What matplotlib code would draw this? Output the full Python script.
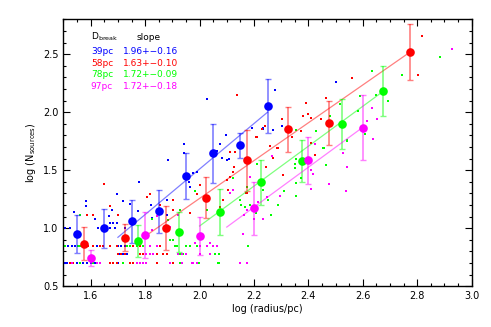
import matplotlib
matplotlib.use('Agg')
import matplotlib.pyplot as plt
import numpy as np
from matplotlib.ticker import MultipleLocator

# binned means (big symbols) with errors
blue_bx = [1.55, 1.65, 1.75, 1.85, 1.95, 2.05, 2.15, 2.25]
blue_by = [0.95, 1.00, 1.062, 1.148, 1.449, 1.647, 1.716, 2.051]
blue_be = [0.165, 0.17, 0.185, 0.185, 0.20, 0.255, 0.107, 0.232]

red_bx = [1.575, 1.725, 1.875, 2.025, 2.175, 2.325, 2.475, 2.775]
red_by = [0.867, 0.918, 1.002, 1.262, 1.584, 1.851, 1.908, 2.519]
red_be = [0.14, 0.115, 0.193, 0.178, 0.26, 0.19, 0.19, 0.238]

green_bx = [1.775, 1.925, 2.075, 2.225, 2.375, 2.525, 2.675]
green_by = [0.892, 0.970, 1.142, 1.395, 1.578, 1.899, 2.183]
green_be = [0.14, 0.174, 0.20, 0.196, 0.182, 0.215, 0.217]

mag_bx = [1.60, 1.80, 2.00, 2.20, 2.40, 2.60]
mag_by = [0.741, 0.941, 0.935, 1.174, 1.584, 1.865]
mag_be = [0.07, 0.195, 0.165, 0.228, 0.20, 0.28]

# individual regions (small dots)
blue_sx = [1.505, 1.512, 1.524, 1.536, 1.548, 1.561, 1.573, 1.585, 1.600, 1.615, 1.683, 1.700, 1.720,
           1.505, 1.518, 1.530, 1.542, 1.555, 1.610, 1.622, 1.634, 1.701, 1.713, 1.726,
           1.707, 1.720, 1.732,
           1.505, 1.524, 1.628, 1.671, 1.690, 1.726,
           1.671, 1.683, 1.695,
           1.539, 1.583, 1.583, 1.614, 1.668, 1.677, 1.695, 1.717, 1.744, 1.777, 1.775, 1.820, 1.824,
           1.885, 1.879, 1.879, 1.942, 1.942, 1.977, 1.989, 1.962, 1.965, 2.075, 2.096, 2.081, 2.063,
           2.100, 2.234, 2.270, 2.026, 2.277, 2.503, 2.193, 2.232, 2.302, 2.107]
blue_sy = [0.699, 0.699, 0.699, 0.699, 0.699, 0.699, 0.699, 0.699, 0.699, 0.699, 0.699, 0.699, 0.699,
           0.845, 0.845, 0.845, 0.845, 0.845, 0.845, 0.845, 0.845, 0.845, 0.845, 0.845,
           0.778, 0.778, 0.778,
           1.0, 1.0, 1.0, 1.0, 1.0, 1.0,
           1.041, 1.041, 1.041,
           1.139, 1.234, 1.191, 1.079, 1.108, 1.157, 1.297, 1.234, 1.208, 1.398, 1.145, 1.197, 1.088,
           1.587, 1.243, 1.114, 1.725, 1.650, 1.478, 1.484, 1.400, 1.352, 1.730, 1.799, 1.601, 1.667,
           1.587, 1.854, 1.845, 2.112, 2.190, 2.258, 1.860, 1.860, 1.882, 1.598]

red_sx = [1.524, 1.530, 1.536, 1.671, 1.683, 1.695, 1.744, 1.756, 1.769, 1.781, 1.793, 1.891, 1.903, 1.842,
          1.701, 1.713, 1.726, 1.781, 1.793, 1.805, 1.818, 1.842, 1.867, 1.879,
          1.591, 1.610, 1.634, 1.646, 1.671, 1.695, 1.732, 1.756, 1.781, 1.842, 1.854,
          1.650, 1.610, 1.585, 1.671, 1.701, 1.818, 1.808, 1.854, 1.854, 1.901, 1.903, 1.965, 2.001,
          1.989, 2.111, 2.130, 2.124, 2.111, 2.099, 2.105, 2.176, 2.209, 2.258, 2.283, 2.087, 2.075,
          2.136, 2.126, 2.228, 2.289, 2.819, 2.801, 2.560, 2.463, 2.391, 2.304, 2.445, 2.371, 2.338,
          2.212, 2.240, 2.424, 2.408, 2.270, 2.244, 2.307, 2.169, 2.381, 2.397, 2.411]
red_sy = [0.699, 0.699, 0.699, 0.699, 0.699, 0.699, 0.699, 0.699, 0.699, 0.699, 0.699, 0.699, 0.699, 0.699,
          0.778, 0.778, 0.778, 0.778, 0.778, 0.778, 0.778, 0.778, 0.778, 0.778,
          0.845, 0.845, 0.845, 0.845, 0.845, 0.845, 0.845, 0.845, 0.845, 0.845, 0.845,
          1.378, 1.114, 1.114, 1.191, 1.114, 1.294, 1.266, 1.200, 1.157, 1.157, 1.243, 1.128, 1.372,
          1.291, 1.659, 1.659, 1.487, 1.438, 1.415, 1.329, 1.300, 1.788, 1.707, 1.687, 1.243, 1.185,
          2.149, 1.524, 1.856, 1.688, 2.654, 2.316, 2.293, 2.120, 2.083, 1.939, 1.937, 1.837, 1.782,
          1.782, 1.880, 1.630, 1.731, 1.602, 1.529, 1.458, 1.305, 1.968, 1.983, 1.951]

green_sx = [1.561, 1.610, 1.720, 1.781, 1.793, 1.805, 1.928, 2.072, 1.999, 2.069,
            1.928, 1.940, 2.056, 2.072,
            1.505, 1.555, 1.561, 1.732, 1.744, 1.769, 1.793, 1.910, 1.916, 1.952, 1.965, 1.989, 2.026, 2.179,
            1.891, 1.903,
            1.561, 1.885, 1.824, 1.928, 1.983, 2.026, 2.124, 2.148, 2.166, 2.185, 2.232, 2.252, 2.209, 2.264,
            2.351, 2.351, 2.464, 2.287, 2.356, 2.311, 2.210, 2.173, 2.154, 2.372,
            2.542, 2.454, 2.353, 2.356,
            2.883, 2.744, 2.635, 2.693, 2.650, 2.591, 2.515, 2.581, 2.481, 2.427, 2.353, 2.607, 2.540, 2.457]
green_sy = [0.699, 0.699, 0.699, 0.699, 0.699, 0.699, 0.699, 0.699, 0.699, 0.699,
            0.778, 0.778, 0.778, 0.778,
            0.845, 0.845, 0.845, 0.845, 0.845, 0.845, 0.845, 0.845, 0.845, 0.845, 0.845, 0.845, 0.845, 0.845,
            0.903, 0.903,
            1.113, 1.070, 1.076, 1.157, 1.323, 1.157, 1.429, 1.243, 1.185, 1.200, 1.329, 1.243, 1.128, 1.114,
            1.550, 1.515, 1.544, 1.202, 1.277, 1.320, 1.550, 1.357, 1.200, 1.429,
            1.756, 1.688, 1.600, 1.392,
            2.476, 2.316, 2.353, 2.097, 2.152, 2.138, 2.066, 2.006, 1.968, 1.836, 1.845, 1.811, 1.753, 1.688]

mag_sx = [1.530, 1.622, 1.634, 1.769, 1.781, 1.793, 1.805, 1.891, 1.977, 1.989, 2.148, 2.175, 1.934, 1.974,
          1.805, 1.818, 1.830, 1.922, 1.934, 1.952, 2.001, 2.038,
          1.818, 1.842, 2.001, 2.026, 2.050, 2.063,
          1.844, 1.824, 1.891, 1.922, 1.983, 2.038, 2.124, 2.111, 2.175, 2.191, 2.216,
          2.638, 2.540, 2.537, 2.476, 2.417, 2.409, 2.295, 2.246, 2.232, 2.200, 2.164, 2.185, 2.268, 2.161,
          2.616, 2.409, 2.527, 2.926, 2.683, 2.652, 2.635, 2.424]
mag_sy = [0.699, 0.699, 0.699, 0.699, 0.699, 0.699, 0.699, 0.699, 0.699, 0.699, 0.699, 0.699, 0.699, 0.699,
          0.778, 0.778, 0.778, 0.778, 0.778, 0.778, 0.778, 0.778,
          0.845, 0.845, 0.845, 0.845, 0.845, 0.845,
          1.102, 0.985, 1.013, 1.114, 0.870, 0.870, 1.329, 1.300, 1.157, 1.185, 1.228,
          1.773, 1.529, 1.320, 1.380, 1.464, 1.340, 1.277, 1.271, 1.077, 1.077, 1.114, 1.443, 1.621, 0.950,
          1.923, 1.500, 1.645, 2.542, 2.166, 1.944, 2.032, 1.724]

# power-law fits: slope, x range, y at the upper end
fit_slope = [1.96, 1.63, 1.72, 1.72]
fit_xlo = [1.70, 1.80, 2.00, 2.10]
fit_xhi = [2.25, 2.775, 2.675, 2.60]
fit_yhi = [2.00, 2.52, 2.18, 1.87]

labels_d = ['39pc', '58pc', '78pc', '97pc']
labels_s = ['1.96+\u22120.16', '1.63+\u22120.10', '1.72+\u22120.09', '1.72+\u22120.18']
colors = ['#0000ff', '#ff0000', '#00ff00', '#ff00ff']

small = [(blue_sx, blue_sy), (red_sx, red_sy), (green_sx, green_sy), (mag_sx, mag_sy)]
big = [(blue_bx, blue_by, blue_be), (red_bx, red_by, red_be),
       (green_bx, green_by, green_be), (mag_bx, mag_by, mag_be)]

fig = plt.figure(figsize=(4.91, 3.27), dpi=100)
ax = fig.add_axes([0.1293, 0.1245, 0.8314, 0.8165])

for (sx, sy), c in zip(small, colors):
    ax.plot(sx, sy, 's', color=c, ms=1.8, mew=0, ls='none')

for i, ((bx, by, be), c) in enumerate(zip(big, colors)):
    ax.errorbar(bx, by, yerr=be, fmt='none', ecolor=c, alpha=0.5, elinewidth=1.2,
                capsize=2.2, capthick=1)
    xs = np.array([fit_xlo[i], fit_xhi[i]])
    ax.plot(xs, fit_yhi[i] + fit_slope[i] * (xs - fit_xhi[i]), color=c, alpha=0.5, lw=0.9)
    ax.plot(bx, by, 'o', color=c, ms=6.2, mew=0)

ax.set_xlim(1.5, 3.0)
ax.set_ylim(0.5, 2.8)
ax.xaxis.set_major_locator(MultipleLocator(0.2))
ax.xaxis.set_minor_locator(MultipleLocator(0.05))
ax.yaxis.set_major_locator(MultipleLocator(0.5))
ax.yaxis.set_minor_locator(MultipleLocator(0.1))
ax.tick_params(which='both', direction='in', top=True, right=True, labelsize=7)
ax.tick_params(which='major', length=5, width=0.8)
ax.tick_params(which='minor', length=2.5, width=0.8)
ax.set_xticks([1.6, 1.8, 2.0, 2.2, 2.4, 2.6, 2.8, 3.0])
for s in ax.spines.values():
    s.set_linewidth(1.0)

ax.set_xlabel('log (radius/pc)', fontsize=7, labelpad=2)
ax.set_ylabel('log (N$_{\\rm sources}$)', fontsize=7, labelpad=4)

ax.text(0.067, 0.933, 'D$_{\\rm break}$', transform=ax.transAxes, fontsize=6.5, va='center')
ax.text(0.18, 0.933, 'slope', transform=ax.transAxes, fontsize=6.5, va='center')
for i in range(4):
    yy = 0.879 - i * 0.0437
    ax.text(0.067, yy, labels_d[i], color=colors[i], transform=ax.transAxes, fontsize=6.5, va='center')
    ax.text(0.145, yy, labels_s[i], color=colors[i], transform=ax.transAxes, fontsize=6.5, va='center')

fig.savefig('out.png', dpi=100)
